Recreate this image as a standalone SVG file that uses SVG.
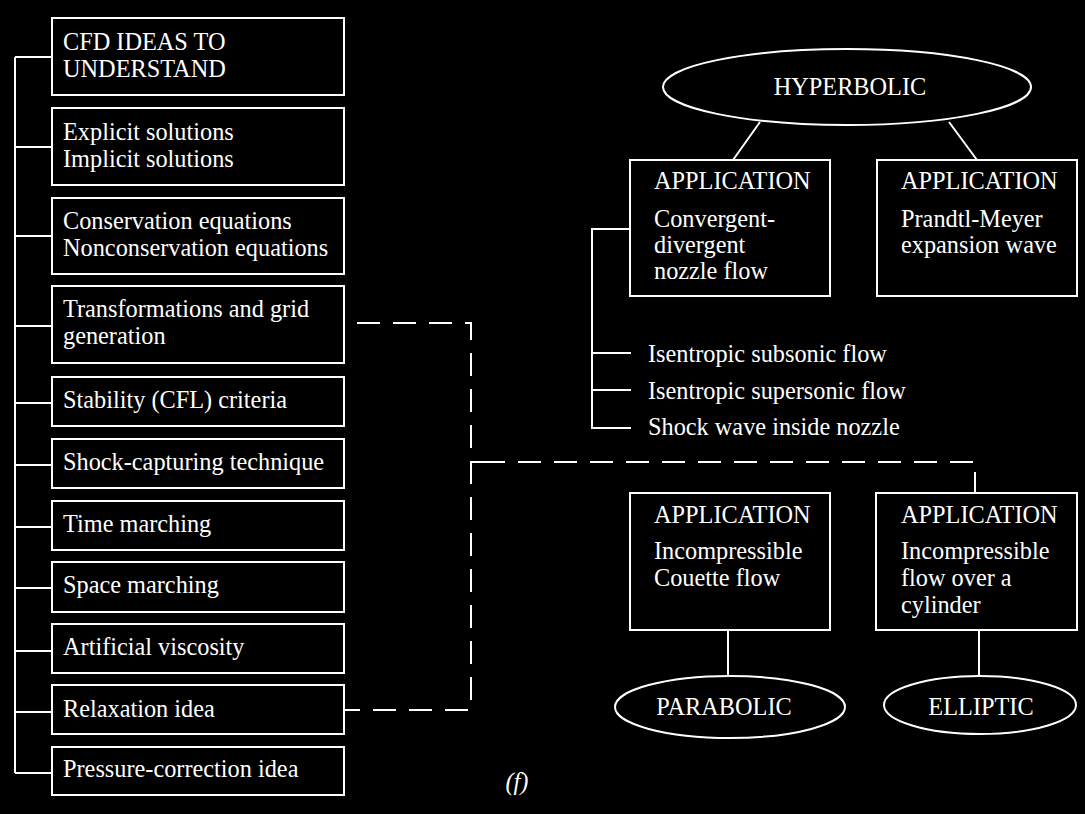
<svg xmlns="http://www.w3.org/2000/svg" width="1085" height="814" viewBox="0 0 1085 814">
<style>
.bg{fill:#000}
.box{fill:#000;stroke:#fff;stroke-width:2}
.ln{fill:none;stroke:#fff;stroke-width:2}
.dash{fill:none;stroke:#fff;stroke-width:2;stroke-dasharray:23 13}
text{font-family:"Liberation Serif","Times New Roman",serif;font-size:24.3px;fill:#fff}
.c{text-anchor:middle}
</style>
<rect class="bg" x="0" y="0" width="1085" height="814"/>
<g id="connectors">
<path class="ln" d="M15,57 V773 M15,57 H52 M15,147 H52 M15,236 H52 M15,326 H52 M15,403 H52 M15,465 H52 M15,527 H52 M15,588 H52 M15,651 H52 M15,712 H52 M15,773 H52"/>
<path class="dash" d="M357,323 H471 V710 H343"/>
<path class="dash" d="M973,462 H471"/>
<path class="ln" d="M471,462 H494"/>
<path class="ln" d="M975,472 V493"/>
<path class="ln" d="M760,122 L733,160 M949,122 L977,160"/>
<path class="ln" d="M630,229 H592 V428 H631 M592,353 H631 M592,390 H631"/>
<path class="ln" d="M728,630 V676 M979,630 V676"/>
</g>
<g id="n_cfd"><rect class="box" x="52" y="18" width="292" height="77"/><text x="63" y="50">CFD IDEAS TO</text><text x="63" y="77">UNDERSTAND</text></g>
<g id="n_explicit"><rect class="box" x="52" y="108" width="292" height="77"/><text x="63" y="140">Explicit solutions</text><text x="63" y="167">Implicit solutions</text></g>
<g id="n_conservation"><rect class="box" x="52" y="198" width="292" height="76"/><text x="63" y="229">Conservation equations</text><text x="63" y="256">Nonconservation equations</text></g>
<g id="n_transform"><rect class="box" x="52" y="286" width="292" height="77"/><text x="63" y="317">Transformations and grid</text><text x="63" y="344">generation</text></g>
<g id="n_stability"><rect class="box" x="52" y="377" width="292" height="49"/><text x="63" y="408">Stability (CFL) criteria</text></g>
<g id="n_shock"><rect class="box" x="52" y="439" width="292" height="49"/><text x="63" y="470">Shock-capturing technique</text></g>
<g id="n_time"><rect class="box" x="52" y="501" width="292" height="49"/><text x="63" y="532">Time marching</text></g>
<g id="n_space"><rect class="box" x="52" y="562" width="292" height="50"/><text x="63" y="593">Space marching</text></g>
<g id="n_artificial"><rect class="box" x="52" y="624" width="292" height="49"/><text x="63" y="655">Artificial viscosity</text></g>
<g id="n_relax"><rect class="box" x="52" y="685" width="292" height="49"/><text x="63" y="717">Relaxation idea</text></g>
<g id="n_pressure"><rect class="box" x="52" y="747" width="292" height="48"/><text x="63" y="777">Pressure-correction idea</text></g>
<g id="n_hyperbolic"><ellipse class="box" cx="847" cy="87" rx="184" ry="38"/><text class="c" x="850" y="95">HYPERBOLIC</text></g>
<g id="n_app_nozzle"><rect class="box" x="630" y="160" width="200" height="136"/><text x="654" y="189">APPLICATION</text><text x="654" y="227">Convergent-</text><text x="654" y="253">divergent</text><text x="654" y="279">nozzle flow</text></g>
<g id="n_app_pm"><rect class="box" x="877" y="160" width="200" height="136"/><text x="901" y="189">APPLICATION</text><text x="901" y="227">Prandtl-Meyer</text><text x="901" y="253">expansion wave</text></g>
<g id="n_cases"><text x="648" y="362">Isentropic subsonic flow</text><text x="648" y="399">Isentropic supersonic flow</text><text x="648" y="435">Shock wave inside nozzle</text></g>
<g id="n_app_couette"><rect class="box" x="630" y="493" width="200" height="137"/><text x="654" y="523">APPLICATION</text><text x="654" y="559">Incompressible</text><text x="654" y="586">Couette flow</text></g>
<g id="n_app_cyl"><rect class="box" x="876" y="493" width="201" height="137"/><text x="901" y="523">APPLICATION</text><text x="901" y="559">Incompressible</text><text x="901" y="586">flow over a</text><text x="901" y="613">cylinder</text></g>
<g id="n_parabolic"><ellipse class="box" cx="730" cy="707" rx="115" ry="31"/><text class="c" x="724" y="715">PARABOLIC</text></g>
<g id="n_elliptic"><ellipse class="box" cx="980" cy="705" rx="96" ry="29"/><text class="c" x="981" y="715">ELLIPTIC</text></g>
<text class="c" x="517" y="790" font-style="italic">(f)</text>
</svg>
